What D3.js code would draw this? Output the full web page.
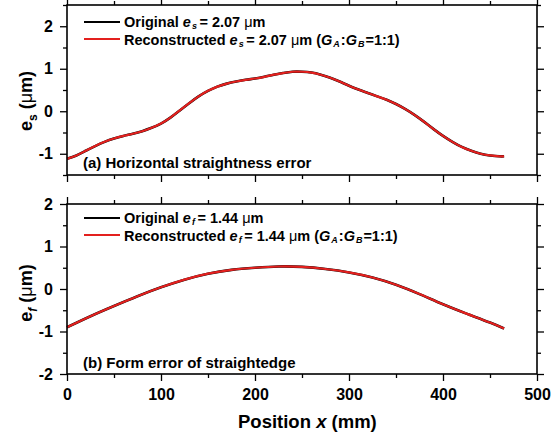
<!DOCTYPE html>
<html><head><meta charset="utf-8">
<script src="https://cdn.jsdelivr.net/npm/d3@7"></script>
<style>body{margin:0;background:#fff}svg{font-family:"Liberation Sans",Arial,sans-serif;font-weight:bold}</style>
</head><body><svg id="c" width="551" height="437"></svg>
<script>
// Panel (a): horizontal straightness error
const xA = [0,10,20,30,40,50,60,70,80,90,100,110,120,130,140,150,160,170,180,190,200,210,220,230,240,250,260,270,280,290,300,310,320,330,340,350,360,370,380,390,400,410,420,430,440,450,460,465];
const esOriginal = [-1.12,-1.04,-0.93,-0.82,-0.72,-0.64,-0.58,-0.53,-0.47,-0.39,-0.29,-0.15,0.02,0.19,0.35,0.48,0.58,0.65,0.70,0.74,0.77,0.81,0.86,0.90,0.93,0.93,0.91,0.86,0.79,0.70,0.60,0.51,0.43,0.35,0.27,0.17,0.05,-0.09,-0.25,-0.42,-0.58,-0.72,-0.84,-0.93,-1.00,-1.04,-1.06,-1.06];
const esReconstructed = [-1.12,-1.04,-0.93,-0.82,-0.72,-0.64,-0.58,-0.53,-0.47,-0.39,-0.29,-0.15,0.02,0.19,0.35,0.48,0.58,0.65,0.70,0.74,0.77,0.81,0.86,0.90,0.93,0.93,0.91,0.86,0.79,0.70,0.60,0.51,0.43,0.35,0.27,0.17,0.05,-0.09,-0.25,-0.42,-0.58,-0.72,-0.84,-0.93,-1.00,-1.04,-1.06,-1.06];
// Panel (b): form error of straightedge
const xB = [0,25,50,75,100,125,150,175,200,225,250,275,300,325,350,375,400,425,450,465];
const efOriginal = [-0.90,-0.64,-0.40,-0.17,0.04,0.22,0.36,0.45,0.50,0.53,0.52,0.47,0.39,0.27,0.10,-0.12,-0.36,-0.58,-0.79,-0.93];
const efReconstructed = [-0.90,-0.64,-0.40,-0.17,0.04,0.22,0.36,0.45,0.50,0.53,0.52,0.47,0.39,0.27,0.10,-0.12,-0.36,-0.58,-0.79,-0.93];
const xTicks = [0,100,200,300,400,500];
const yTicksA = [-1,0,1,2];
const yTicksB = [-2,-1,0,1,2];

const svg = d3.select("#c");
const L = 67, R = 537;
const x = d3.scaleLinear().domain([0,500]).range([L,R]);
const yA = d3.scaleLinear().domain([-1.5,2.5]).range([175,5]);
const yB = d3.scaleLinear().domain([-2,2]).range([374,204]);
const red = "#e3201e";
const fmt = v => String(v);

function panel(y, yTicks, xs, orig, recon, showX) {
  const T = y.range()[1], B = y.range()[0];
  const g = svg.append("g");
  const minorX = d3.range(50,500,100);
  const [y0,y1] = y.domain();
  const minorY = d3.range(y0,y1+0.001,0.5).filter(v=>!yTicks.includes(v));
  const axB = d3.axisBottom(x).tickValues(xTicks).tickSize(7).tickFormat(showX? fmt : "");
  const axT = d3.axisTop(x).tickValues(xTicks).tickSize(7).tickFormat("");
  const axL = d3.axisLeft(y).tickValues(yTicks).tickSize(7).tickFormat(fmt);
  const axR = d3.axisRight(y).tickValues(yTicks).tickSize(7).tickFormat("");
  const mB = d3.axisBottom(x).tickValues(minorX).tickSize(4).tickFormat("");
  const mT = d3.axisTop(x).tickValues(minorX).tickSize(4).tickFormat("");
  const mL = d3.axisLeft(y).tickValues(minorY).tickSize(4).tickFormat("");
  const mR = d3.axisRight(y).tickValues(minorY).tickSize(4).tickFormat("");
  const add = (ax, tr) => {
    const a = g.append("g").attr("transform", tr).call(ax);
    a.select(".domain").remove();
    a.selectAll("line").attr("stroke","#000").attr("stroke-width",1.3);
    a.selectAll("text").attr("font-family","Liberation Sans, Arial, sans-serif").attr("font-weight","bold").attr("font-size",16).attr("fill","#000");
    return a;
  };
  const b = add(axB, `translate(0,${B})`); b.selectAll("text").attr("dy","1.0em");
  add(axT, `translate(0,${T})`);
  const l = add(axL, `translate(${L},0)`); l.selectAll("text").attr("dx","-0.25em");
  add(axR, `translate(${R},0)`);
  add(mB, `translate(0,${B})`); add(mT, `translate(0,${T})`);
  add(mL, `translate(${L},0)`); add(mR, `translate(${R},0)`);
  const line = d3.line().x((d,i)=>x(xs[i])).y(d=>y(d)).curve(d3.curveNatural);
  g.append("path").attr("d", line(orig)).attr("fill","none").attr("stroke","#000").attr("stroke-width",2.6);
  g.append("path").attr("d", line(recon)).attr("fill","none").attr("stroke",red).attr("stroke-width",2.2);
  g.append("rect").attr("x",L).attr("y",T).attr("width",R-L).attr("height",B-T).attr("fill","none").attr("stroke","#000").attr("stroke-width",1.6);
  return g;
}

panel(yA, yTicksA, xA, esOriginal, esReconstructed, false);
panel(yB, yTicksB, xB, efOriginal, efReconstructed, true);

function legend(ly, sub, val) {
  const g = svg.append("g");
  g.append("line").attr("x1",84).attr("x2",120).attr("y1",ly).attr("y2",ly).attr("stroke","#000").attr("stroke-width",2);
  g.append("line").attr("x1",84).attr("x2",120).attr("y1",ly+17).attr("y2",ly+17).attr("stroke",red).attr("stroke-width",2.2);
  const t1 = g.append("text").attr("x",124).attr("y",ly+4.5).attr("font-size",14.5);
  t1.append("tspan").text("Original ");
  t1.append("tspan").attr("font-style","italic").text("e");
  t1.append("tspan").attr("font-style","italic").attr("font-size",9).attr("dy",2.5).attr("dx",1).text(sub);
  t1.append("tspan").attr("dy",-2.5).attr("dx",2.5).text("= " + val + " ");
  t1.append("tspan").attr("font-weight","normal").text("\u03bc");
  t1.append("tspan").text("m");
  const t2 = g.append("text").attr("x",124).attr("y",ly+22.5).attr("font-size",14.5);
  t2.append("tspan").text("Reconstructed ");
  t2.append("tspan").attr("font-style","italic").text("e");
  t2.append("tspan").attr("font-style","italic").attr("font-size",9).attr("dy",2.5).attr("dx",1).text(sub);
  t2.append("tspan").attr("dy",-2.5).attr("dx",2.5).text("= " + val + " ");
  t2.append("tspan").attr("font-weight","normal").text("\u03bc");
  t2.append("tspan").text("m (");
  t2.append("tspan").attr("font-style","italic").text("G");
  t2.append("tspan").attr("font-style","italic").attr("font-size",9).attr("dy",2.5).attr("dx",1).text("A");
  t2.append("tspan").attr("dy",-2.5).attr("dx",1).text(":");
  t2.append("tspan").attr("font-style","italic").text("G");
  t2.append("tspan").attr("font-style","italic").attr("font-size",9).attr("dy",2.5).attr("dx",1).text("B");
  t2.append("tspan").attr("dy",-2.5).attr("dx",1).text("=1:1)");
}
legend(22, "s", "2.07");
legend(218, "f", "1.44");

svg.append("text").attr("x",83).attr("y",168).attr("font-size",15).text("(a) Horizontal straightness error");
svg.append("text").attr("x",83).attr("y",368).attr("font-size",15).text("(b) Form error of straightedge");

function ylabel(cy, sub) {
  const t = svg.append("text").attr("transform",`translate(32,${cy}) rotate(-90)`).attr("text-anchor","middle").attr("font-size",18);
  t.append("tspan").text("e");
  t.append("tspan").attr("font-size",12).attr("dy",5).attr("font-style", sub==="f"?"italic":"normal").text(sub);
  t.append("tspan").attr("dy",-5).text(" (");
  t.append("tspan").attr("font-weight","normal").text("\u03bc");
  t.append("tspan").text("m)");
}
ylabel(101, "s");
ylabel(293, "f");

const xt = svg.append("text").attr("x",238).attr("y",428).attr("font-size",18.5);
xt.append("tspan").text("Position  ");
xt.append("tspan").attr("font-style","italic").text("x");
xt.append("tspan").text(" (mm)");
</script></body></html>
